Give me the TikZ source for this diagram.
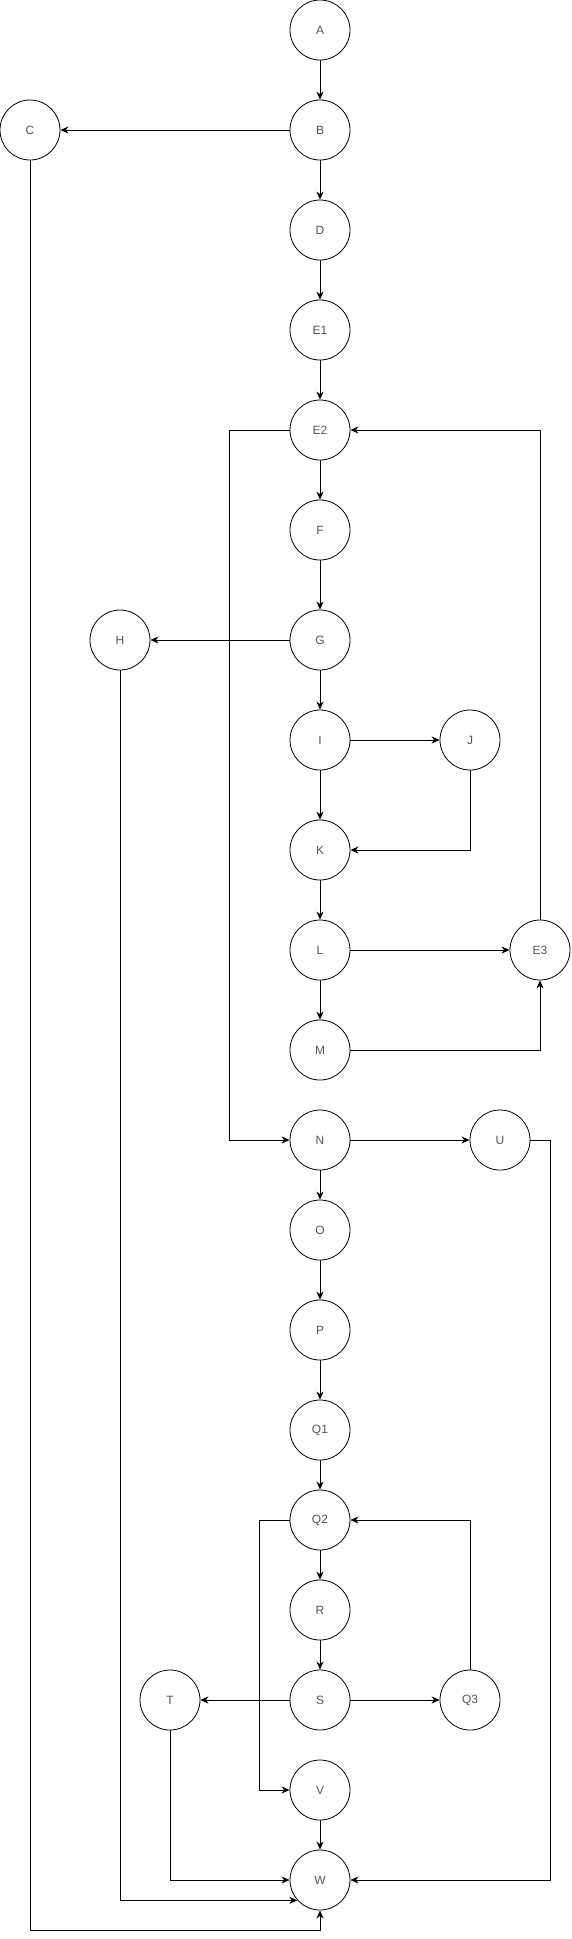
\documentclass[tikz,border=0pt]{standalone}
\usepackage{fontspec}
\setmainfont{Liberation Sans}
\usetikzlibrary{arrows.meta}
\definecolor{labelgray}{RGB}{85,85,85}
\tikzset{
    state/.style={draw, circle, minimum size=60pt, inner sep=0pt, line width=0.8pt, font=\fontsize{12}{14}\selectfont, text=labelgray},
    flow/.style={->, line width=0.9pt}
}
\begin{document}
\begin{tikzpicture}[x=1pt, y=-1pt, >={Stealth[length=8pt,width=7pt,inset=2.5pt]}]
    \useasboundingbox (0,0) rectangle (571,1939);
    % main column
    \node[state] (A) at (320,30) {A};
    \node[state] (B) at (320,130) {B};
    \node[state] (C) at (30,130) {C};
    \node[state] (D) at (320,230) {D};
    \node[state] (E1) at (320,330) {E1};
    \node[state] (E2) at (320,430) {E2};
    \node[state] (F) at (320,530) {F};
    \node[state] (G) at (320,640) {G};
    \node[state] (H) at (120,640) {H};
    \node[state] (I) at (320,740) {I};
    \node[state] (J) at (470,740) {J};
    \node[state] (K) at (320,850) {K};
    \node[state] (L) at (320,950) {L};
    \node[state] (E3) at (540,950) {E3};
    \node[state] (M) at (320,1050) {M};
    \node[state] (N) at (320,1140) {N};
    \node[state] (U) at (500,1140) {U};
    \node[state] (O) at (320,1230) {O};
    \node[state] (P) at (320,1330) {P};
    \node[state] (Q1) at (320,1430) {Q1};
    \node[state] (Q2) at (320,1520) {Q2};
    \node[state] (R) at (320,1610) {R};
    \node[state] (S) at (320,1700) {S};
    \node[state] (T) at (170,1700) {T};
    \node[state] (Q3) at (470,1700) {Q3};
    \node[state] (V) at (320,1790) {V};
    \node[state] (W) at (320,1880) {W};

    \draw[flow] (A) -- (B);
    \draw[flow] (B) -- (C);
    \draw[flow] (B) -- (D);
    \draw[flow] (D) -- (E1);
    \draw[flow] (E1) -- (E2);
    \draw[flow] (E2) -- (F);
    \draw[flow] (F) -- (G);
    \draw[flow] (G) -- (H);
    \draw[flow] (G) -- (I);
    \draw[flow] (I) -- (J);
    \draw[flow] (I) -- (K);
    \draw[flow] (J.south) |- (K.east);
    \draw[flow] (K) -- (L);
    \draw[flow] (L) -- (E3);
    \draw[flow] (L) -- (M);
    \draw[flow] (M.east) -| (E3.south);
    \draw[flow] (E3.north) |- (E2.east);
    \draw[flow] (E2.west) -- ++(-60,0) |- (N.west);

    \draw[flow] (N) -- (U);
    \draw[flow] (N) -- (O);
    \draw[flow] (O) -- (P);
    \draw[flow] (P) -- (Q1);
    \draw[flow] (Q1) -- (Q2);
    \draw[flow] (Q2) -- (R);
    \draw[flow] (R) -- (S);
    \draw[flow] (S) -- (T);
    \draw[flow] (S) -- (Q3);
    \draw[flow] (Q3.north) |- (Q2.east);
    \draw[flow] (Q2.west) -- ++(-30,0) |- (V.west);
    \draw[flow] (V) -- (W);

    % into W
    \draw[flow] (T.south) |- (W.west);
    \draw[flow] (H.south) |- (W.222);
    \draw[flow] (C.south) -- ++(0,1770) -| (W.south);
    \draw[flow] (U.east) -- ++(20,0) |- (W.east);
\end{tikzpicture}
\end{document}
